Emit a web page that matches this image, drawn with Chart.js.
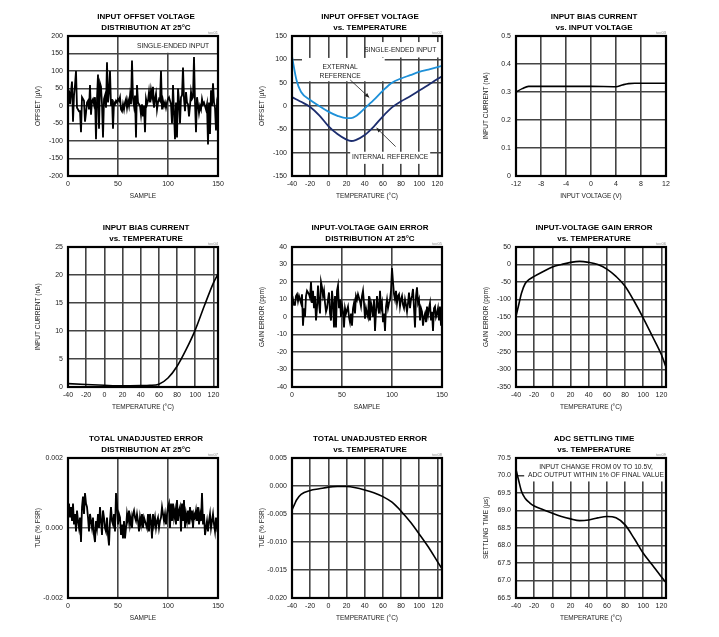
<!DOCTYPE html>
<html>
<head>
<meta charset="utf-8">
<script src="https://cdn.jsdelivr.net/npm/chart.js@4.4.0/dist/chart.umd.min.js"></script>
<style>
  body { margin: 0; background: #fff; width: 719px; height: 637px; position: relative; overflow: hidden; }
  .cell { position: absolute; width: 240px; height: 210px; }
</style>
</head>
<body>
<div class="cell" style="left:0;top:0"><canvas id="c1" width="240" height="210"></canvas></div>
<div class="cell" style="left:224px;top:0"><canvas id="c2" width="240" height="210"></canvas></div>
<div class="cell" style="left:448px;top:0"><canvas id="c3" width="240" height="210"></canvas></div>
<div class="cell" style="left:0;top:211px"><canvas id="c4" width="240" height="210"></canvas></div>
<div class="cell" style="left:224px;top:211px"><canvas id="c5" width="240" height="210"></canvas></div>
<div class="cell" style="left:448px;top:211px"><canvas id="c6" width="240" height="210"></canvas></div>
<div class="cell" style="left:0;top:422px"><canvas id="c7" width="240" height="210"></canvas></div>
<div class="cell" style="left:224px;top:422px"><canvas id="c8" width="240" height="210"></canvas></div>
<div class="cell" style="left:448px;top:422px"><canvas id="c9" width="240" height="210"></canvas></div>
<script>
// ---- data ----
var sampleTicks = [0, 50, 100, 150];
var tempTicks = [-40, -20, 0, 20, 40, 60, 80, 100, 120];
var voltTicks = [-12, -8, -4, 0, 4, 8, 12];

// 1: input offset voltage distribution (uV)
var offsetDist = [
  20, 45, 5, 40, 70, -45, 30, 60, 100, -5,
  -10, -15, -15, -75, 25, 20, 15, -45, -20, 10,
  15, -10, 60, -25, 15, 20, 5, 25, -95, 20,
  90, -65, 65, 55, 5, -90, 20, 30, -5, 125,
  10, 40, 100, 0, 20, -65, 10, 5, 15, 10,
  20, 15, 25, -10, -15, 5, -10, 10, 20, -5,
  15, 0, 30, 5, 130, 20, 0, 30, -90, 60,
  10, 5, 0, -25, 5, -30, 0, -75, 20, 5,
  15, 40, 10, 45, 25, 55, -5, 20, 35, -10,
  10, 20, 15, 100, -10, 15, 0, 10, -5, 10,
  20, 25, 15, 5, -50, 60, -20, -95, 10, -90,
  50, 15, -50, 25, 30, 110, 20, -15, 40, 10,
  5, -30, 0, 40, 20, 25, 140, 10, -75, 25,
  5, -20, 0, -10, 20, 5, 10, 0, -10, 5,
  -110, 10, -80, 45, 0, 65, 10, -5, -70, 5,
  -10
];
var offsetDistTicks = [-200, -150, -100, -50, 0, 50, 100, 150, 200];

// 2: input offset voltage vs temperature (uV)
var offsetTemps = [-40, -35, -30, -20, -10, 0, 10, 20, 25, 30, 40, 50, 60, 70, 80, 90, 100, 110, 125];
var offsetExt = [106, 55, 30, 13, 0, -12, -21, -26, -26, -22, -5, 13, 33, 50, 59, 66, 73, 78, 86];
var offsetInt = [19, 14, 9, -2, -20, -43, -60, -72, -75, -73, -62, -44, -22, -3, 10, 21, 33, 45, 64];
var offsetTempTicks = [-150, -100, -50, 0, 50, 100, 150];

// 3: input bias current vs input voltage (nA)
var biasVolts = [-12, -11, -10, -8, -4, 0, 4, 5, 6, 7, 8, 12];
var biasVsV = [0.30, 0.312, 0.32, 0.32, 0.32, 0.32, 0.319, 0.325, 0.33, 0.331, 0.331, 0.331];
var biasVTicks = [0, 0.1, 0.2, 0.3, 0.4, 0.5];

// 4: input bias current vs temperature (nA)
var biasTemps = [-40, -20, 0, 20, 40, 50, 60, 70, 80, 90, 100, 110, 120, 125];
var biasVsT = [0.6, 0.45, 0.3, 0.2, 0.25, 0.3, 0.5, 1.6, 3.7, 6.7, 10.2, 14.5, 18.6, 20.2];
var biasTTicks = [0, 5, 10, 15, 20, 25];

// 5: gain error distribution (ppm)
var gainDist = [
  8, 10, 7, 7, 12, 13, 9, 12, 10, 8,
  13, -5, 5, 0, 12, 15, 14, 13, 11, 20,
  8, 15, 5, 12, -2, 5, 18, 8, 2, 20,
  17, 12, 15, 8, 3, 5, 10, 14, 2, -2,
  15, 8, -6, 12, -6, 15, 18, 5, 10, 0,
  7, 3, -6, 5, 2, 4, 6, 0, -3, 2,
  -5, 5, 8, 2, 12, 10, 13, 11, 9, 6,
  12, 15, 8, -1, 5, 2, 0, 12, -2, 8,
  5, 0, 10, -8, 3, 12, 6, 2, 15, 5,
  8, -3, 2, -8, 6, 10, 5, 8, 10, 15,
  28, 20, 13, 10, 15, 8, 12, 13, 6, 10,
  12, 7, 5, 10, 7, 3, 8, 14, 5, 10,
  12, 16, 5, -6, 12, 17, 8, 10, -2, 5,
  3, -5, 0, 2, -3, 6, 1, 5, 8, -2,
  3, -8, 5, 6, 0, 2, 5, -2, 6, -5,
  1
];
var gainDistTicks = [-40, -30, -20, -10, 0, 10, 20, 30, 40];

// 6: gain error vs temperature (ppm)
var gainTemps = [-40, -37, -34, -30, -25, -20, -10, 0, 10, 20, 30, 40, 50, 60, 70, 80, 90, 100, 110, 120, 125];
var gainVsT = [-148, -115, -82, -55, -42, -34, -20, -7, 0, 6, 9, 6, 0, -13, -34, -62, -105, -153, -205, -258, -293];
var gainTTicks = [-350, -300, -250, -200, -150, -100, -50, 0, 50];

// 7: TUE distribution (% FSR)
var tueDist = [
  .0004, .0007, .0003, .0006, .0002, .0007, .0001, .0004, -.0001, .0005,
  .0002, 0, .0003, -.0004, .0006, .0009, .0004, .001, .0007, .0006,
  .0003, -.0001, .0004, .0002, 0, .0003, -.0002, -.0004, .0002, 0,
  .0004, 0, .0006, .0002, -.0002, .0005, .0003, 0, -.0001, .0003,
  -.0002, -.0005, .0002, .0006, .0002, .0001, .0004, -.0001, .001, .0007,
  .0001, .0004, .0003, -.0002, .0001, -.0003, .0002, -.0003, 0, .0004,
  .0002, .0005, .0001, .0003, 0, .0004, .0005, .0003, .0002, .0004,
  .0002, -.0001, .0003, .0001, .0004, 0, .0003, .0002, .0001, 0,
  .0004, -.0001, .0004, .0002, -.0003, .0004, .0001, .0003, 0, .0002,
  .0003, 0, .0002, .0003, .0006, .0004, .0002, .0004, .0001, .0004,
  .0006, .0007, 0, .0007, .0002, .0007, .0003, .0005, .0001, .0008,
  .0002, .0005, .0006, -.0001, .0007, .0002, .0008, 0, .0004, .0002,
  .0005, .0001, .0006, .0003, .0005, 0, .0004, .0003, .0005, .0002,
  .0006, .0001, .0004, .0002, .001, .0001, .0004, -.0002, 0, .0002,
  -.0001, .0002, .0004, 0, .0002, .0004, .0001, -.0001, .0003, 0,
  .0001
];
var tueDistTicks = [-0.002, 0, 0.002];

// 8: TUE vs temperature (% FSR)
var tueTemps = [-40, -37, -35, -30, -20, -10, 0, 10, 20, 30, 40, 50, 60, 70, 80, 90, 100, 110, 120, 125];
var tueVsT = [-0.0043, -0.0032, -0.0025, -0.0015, -0.0008, -0.0005, -0.0002, -0.0001, -0.0001, -0.0003, -0.0007, -0.0012, -0.0019, -0.0029, -0.0045, -0.0064, -0.0086, -0.0109, -0.0135, -0.0148];
var tueTTicks = [-0.02, -0.015, -0.01, -0.005, 0, 0.005];

// 9: ADC settling time vs temperature (us)
var settleTemps = [-40, -37, -34, -30, -25, -20, -10, 0, 10, 20, 30, 40, 50, 60, 70, 80, 90, 100, 110, 120, 125];
var settleVsT = [70.17, 69.85, 69.55, 69.35, 69.22, 69.13, 69.02, 68.92, 68.83, 68.76, 68.71, 68.73, 68.79, 68.83, 68.79, 68.59, 68.2, 67.78, 67.44, 67.1, 66.94];
var settleTicks = [66.5, 67, 67.5, 68, 68.5, 69, 69.5, 70, 70.5];

// ---- common setup ----
var FAM = '"Liberation Sans", Arial, sans-serif';
Chart.defaults.animation = false;
Chart.defaults.font.family = FAM;
Chart.defaults.font.size = 7;
Chart.defaults.color = '#222';
Chart.defaults.plugins.legend.display = false;
Chart.defaults.plugins.tooltip.enabled = false;

// title lines + little figure tag above the plot
var heading = {
  id: 'heading',
  afterDraw: function (chart, args, o) {
    var ctx = chart.ctx, a = chart.chartArea;
    ctx.save();
    ctx.fillStyle = '#000';
    ctx.textAlign = 'center';
    ctx.textBaseline = 'middle';
    ctx.font = 'bold 8px ' + FAM;
    var cx = (a.left + a.right) / 2 + 3;
    for (var i = 0; i < o.lines.length; i++) ctx.fillText(o.lines[i], cx, a.top - 19 + i * 11);
    ctx.font = '4px ' + FAM;
    ctx.fillStyle = '#888';
    ctx.textAlign = 'right';
    ctx.fillText(o.tag, a.right, a.top - 3);
    ctx.restore();
  }
};

// black box around the plot area
var frame = {
  id: 'frame',
  afterDatasetsDraw: function (chart) {
    var ctx = chart.ctx, a = chart.chartArea;
    ctx.save();
    ctx.strokeStyle = '#000';
    ctx.lineWidth = 2.2;
    ctx.strokeRect(a.left, a.top, a.right - a.left, a.bottom - a.top);
    ctx.restore();
  }
};

// white label boxes, labels and arrows, given in data units
var notes = {
  id: 'notes',
  beforeDatasetsDraw: function (chart, args, o) {
    var ctx = chart.ctx, x = chart.scales.x, y = chart.scales.y;
    var boxes = o.boxes || [];
    ctx.save();
    ctx.fillStyle = '#fff';
    for (var i = 0; i < boxes.length; i++) {
      var b = boxes[i];
      var x1 = x.getPixelForValue(b[0]), x2 = x.getPixelForValue(b[2]);
      var y1 = y.getPixelForValue(b[1]), y2 = y.getPixelForValue(b[3]);
      ctx.fillRect(Math.min(x1, x2), Math.min(y1, y2), Math.abs(x2 - x1), Math.abs(y2 - y1));
    }
    ctx.restore();
  },
  afterDatasetsDraw: function (chart, args, o) {
    var ctx = chart.ctx, x = chart.scales.x, y = chart.scales.y;
    var texts = o.texts || [], arrows = o.arrows || [];
    ctx.save();
    ctx.fillStyle = '#222';
    ctx.font = '6.7px ' + FAM;
    ctx.textAlign = 'center';
    ctx.textBaseline = 'middle';
    for (var i = 0; i < texts.length; i++) {
      ctx.fillText(texts[i][2], x.getPixelForValue(texts[i][0]), y.getPixelForValue(texts[i][1]));
    }
    ctx.strokeStyle = '#222';
    ctx.lineWidth = 0.8;
    for (var j = 0; j < arrows.length; j++) {
      var r = arrows[j];
      var fx = x.getPixelForValue(r[0]), fy = y.getPixelForValue(r[1]);
      var tx = x.getPixelForValue(r[2]), ty = y.getPixelForValue(r[3]);
      var ang = Math.atan2(ty - fy, tx - fx);
      ctx.beginPath(); ctx.moveTo(fx, fy); ctx.lineTo(tx, ty); ctx.stroke();
      ctx.beginPath();
      ctx.moveTo(tx, ty);
      ctx.lineTo(tx - 5 * Math.cos(ang - 0.4), ty - 5 * Math.sin(ang - 0.4));
      ctx.lineTo(tx - 5 * Math.cos(ang + 0.4), ty - 5 * Math.sin(ang + 0.4));
      ctx.closePath(); ctx.fill();
    }
    ctx.restore();
  }
};

function fixed(n) { return function (v) { return v.toFixed(n); }; }

function axis(min, max, ticks, title, fmt, isX, gridColor) {
  var s = {
    type: 'linear',
    min: min,
    max: max,
    afterBuildTicks: function (sc) { sc.ticks = ticks.map(function (v) { return { value: v }; }); },
    grid: { color: gridColor || '#444', lineWidth: 1.6, drawTicks: false },
    border: { display: false },
    ticks: { padding: isX ? 4 : 5, maxRotation: 0, autoSkip: false, color: '#222' },
    title: {
      display: true, text: title, color: '#222', font: { size: 6.5 },
      padding: isX ? { top: 0, bottom: 10 } : { top: 34.5, bottom: 0 }
    }
  };
  if (fmt) s.ticks.callback = fmt;
  if (isX) s.afterFit = function (sc) { sc.height = 34; };
  else s.afterFit = function (sc) { sc.width = 68; };
  return s;
}

function pairs(xs, ys) { return ys.map(function (v, i) { return { x: xs[i], y: v }; }); }
function bySample(ys) { return ys.map(function (v, i) { return { x: i, y: v }; }); }

function line(data, color, smooth, width) {
  return {
    data: data,
    borderColor: color || '#000',
    borderWidth: width || 1.5,
    pointRadius: 0,
    tension: 0,
    cubicInterpolationMode: smooth ? 'monotone' : 'default'
  };
}

function makeChart(id, datasets, xs, ys, head, tag, extra) {
  return new Chart(document.getElementById(id), {
    type: 'line',
    data: { datasets: datasets },
    options: {
      responsive: false,
      layout: { padding: { left: 0, right: 22, top: 36, bottom: 0 } },
      scales: { x: xs, y: ys },
      plugins: { heading: { lines: head, tag: tag }, notes: extra || {} }
    },
    plugins: [notes, frame, heading]
  });
}

var T = 'TEMPERATURE (\u00B0C)';

makeChart('c1', [line(bySample(offsetDist), '#000', false, 1.8)],
  axis(0, 150, sampleTicks, 'SAMPLE', null, true),
  axis(-200, 200, offsetDistTicks, 'OFFSET (\u00B5V)'),
  ['INPUT OFFSET VOLTAGE', 'DISTRIBUTION AT 25\u00B0C'], 'toc01',
  { boxes: [[52, 200, 150, 152]], texts: [[105, 171, 'SINGLE-ENDED INPUT']] });

makeChart('c2', [line(pairs(offsetTemps, offsetExt), '#1e90d8', true, 1.8), line(pairs(offsetTemps, offsetInt), '#1c2d6e', true, 1.8)],
  axis(-40, 125, tempTicks, T, null, true),
  axis(-150, 150, offsetTempTicks, 'OFFSET (\u00B5V)'),
  ['INPUT OFFSET VOLTAGE', 'vs. TEMPERATURE'], 'toc02',
  {
    boxes: [[43, 137, 125, 104], [-29, 103, 62, 53], [24, -98, 112, -124]],
    texts: [[79, 120, 'SINGLE-ENDED INPUT'], [13, 84, 'EXTERNAL'], [13, 64, 'REFERENCE'], [68, -110, 'INTERNAL REFERENCE']],
    arrows: [[24, 56, 45, 18], [74, -87, 53, -47]]
  });

makeChart('c3', [line(pairs(biasVolts, biasVsV), '#000', true, 1.6)],
  axis(-12, 12, voltTicks, 'INPUT VOLTAGE (V)', null, true),
  axis(0, 0.5, biasVTicks, 'INPUT CURRENT (nA)', function (v) { return v === 0 ? '0' : v.toFixed(1); }),
  ['INPUT BIAS CURRENT', 'vs. INPUT VOLTAGE'], 'toc03');

makeChart('c4', [line(pairs(biasTemps, biasVsT), '#000', true, 1.6)],
  axis(-40, 125, tempTicks, T, null, true),
  axis(0, 25, biasTTicks, 'INPUT CURRENT (nA)'),
  ['INPUT BIAS CURRENT', 'vs. TEMPERATURE'], 'toc04');

makeChart('c5', [line(bySample(gainDist), '#000', false, 1.8)],
  axis(0, 150, sampleTicks, 'SAMPLE', null, true),
  axis(-40, 40, gainDistTicks, 'GAIN ERROR (ppm)'),
  ['INPUT-VOLTAGE GAIN ERROR', 'DISTRIBUTION AT 25\u00B0C'], 'toc05');

makeChart('c6', [line(pairs(gainTemps, gainVsT), '#000', true, 1.6)],
  axis(-40, 125, tempTicks, T, null, true),
  axis(-350, 50, gainTTicks, 'GAIN ERROR (ppm)'),
  ['INPUT-VOLTAGE GAIN ERROR', 'vs. TEMPERATURE'], 'toc06');

makeChart('c7', [line(bySample(tueDist), '#000', false, 1.8)],
  axis(0, 150, sampleTicks, 'SAMPLE', null, true),
  axis(-0.002, 0.002, tueDistTicks, 'TUE (% FSR)', fixed(3), false, '#666'),
  ['TOTAL UNADJUSTED ERROR', 'DISTRIBUTION AT 25\u00B0C'], 'toc07');

makeChart('c8', [line(pairs(tueTemps, tueVsT), '#000', true, 1.6)],
  axis(-40, 125, tempTicks, T, null, true),
  axis(-0.02, 0.005, tueTTicks, 'TUE (% FSR)', fixed(3)),
  ['TOTAL UNADJUSTED ERROR', 'vs. TEMPERATURE'], 'toc08');

makeChart('c9', [line(pairs(settleTemps, settleVsT), '#000', true, 1.6)],
  axis(-40, 125, tempTicks, T, null, true),
  axis(66.5, 70.5, settleTicks, 'SETTLING TIME (\u00B5s)', fixed(1)),
  ['ADC SETTLING TIME', 'vs. TEMPERATURE'], 'toc09',
  {
    boxes: [[-31, 70.5, 125, 69.83]],
    texts: [[48, 70.23, 'INPUT CHANGE FROM 0V TO 10.5V,'], [48, 70.0, 'ADC OUTPUT WITHIN 1% OF FINAL VALUE']]
  });
</script>
</body>
</html>
